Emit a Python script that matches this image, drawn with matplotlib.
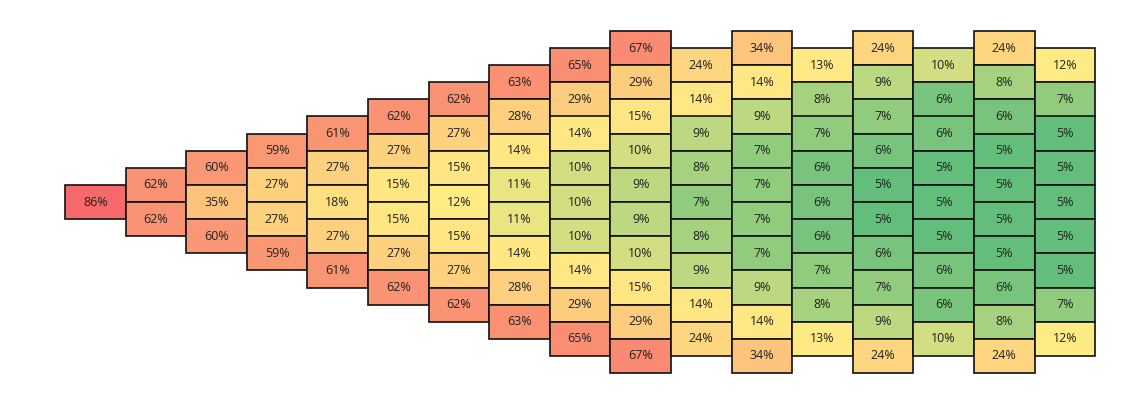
import numpy as np
import matplotlib
matplotlib.use("Agg")
import matplotlib.pyplot as plt
from matplotlib.patches import Rectangle
from matplotlib.colors import to_rgb

# Each column lists its cells from top to bottom (percent values)
col01 = [86]
col02 = [62, 62]
col03 = [60, 35, 60]
col04 = [59, 27, 27, 59]
col05 = [61, 27, 18, 27, 61]
col06 = [62, 27, 15, 15, 27, 62]
col07 = [62, 27, 15, 12, 15, 27, 62]
col08 = [63, 28, 14, 11, 11, 14, 28, 63]
col09 = [65, 29, 14, 10, 10, 10, 14, 29, 65]
col10 = [67, 29, 15, 10, 9, 9, 10, 15, 29, 67]
col11 = [24, 14, 9, 8, 7, 8, 9, 14, 24]
col12 = [34, 14, 9, 7, 7, 7, 7, 9, 14, 34]
col13 = [13, 8, 7, 6, 6, 6, 7, 8, 13]
col14 = [24, 9, 7, 6, 5, 5, 6, 7, 9, 24]
col15 = [10, 6, 6, 5, 5, 5, 6, 6, 10]
col16 = [24, 8, 6, 5, 5, 5, 5, 6, 8, 24]
col17 = [12, 7, 5, 5, 5, 5, 5, 7, 12]

columns = [col01, col02, col03, col04, col05, col06, col07, col08, col09,
           col10, col11, col12, col13, col14, col15, col16, col17]

# Excel-like 3-colour scale: min green, median yellow, max red
allv = np.concatenate([np.array(c, float) for c in columns])
vmin, vmax = allv.min(), allv.max()
vmid = np.percentile(allv, 50)
green, yellow, red = to_rgb("#63BE7B"), to_rgb("#FFEB84"), to_rgb("#F8696B")

def colour(v):
    if v <= vmid:
        t = (v - vmin) / (vmid - vmin)
        a, b = green, yellow
    else:
        t = (v - vmid) / (vmax - vmid)
        a, b = yellow, red
    return tuple(a[i] + (b[i] - a[i]) * t for i in range(3))

W, H = 1133, 405
fig = plt.figure(figsize=(W / 100, H / 100), dpi=100)
ax = fig.add_axes([0, 0, 1, 1])
ax.set_axis_off()

cw, ch = 60.6, 34.2     # pixel size of one cell
x0, yc = 65, 202        # left edge of first column, vertical centre
ax.set_xlim(-x0 / cw, (W - x0) / cw)
ax.set_ylim(-(H - yc) / ch, yc / ch)

for ci, col in enumerate(columns):
    n = len(col)
    for ri, v in enumerate(col):
        top = n / 2 - ri
        ax.add_patch(Rectangle((ci, top - 1), 1, 1, facecolor=colour(v),
                               edgecolor="#111111", linewidth=1.2))
        ax.text(ci + 0.5, top - 0.5, f"{v}%", ha="center", va="center",
                fontsize=9, color="#222222", family="Open Sans")

fig.savefig("out.png", dpi=100)
